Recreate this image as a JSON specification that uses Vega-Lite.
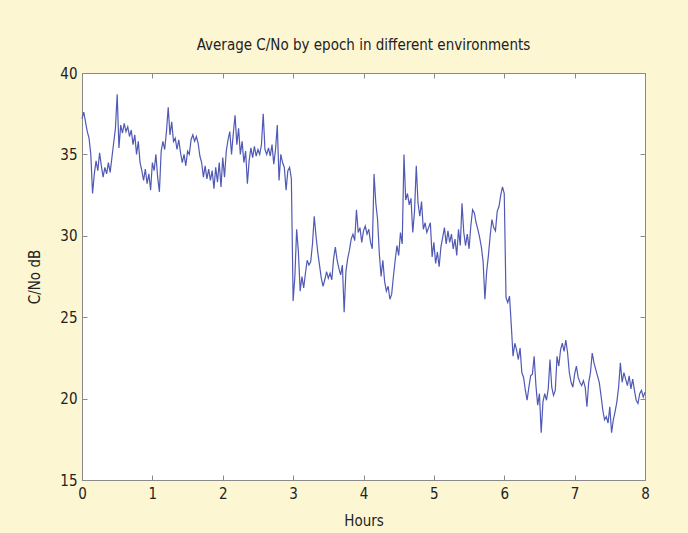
{
  "$schema": "https://vega.github.io/schema/vega-lite/v6.json",
  "width": 563,
  "height": 407,
  "autosize": {"type": "none"},
  "padding": {"left": 82, "top": 73, "right": 43, "bottom": 53},
  "background": "#fdf6d3",
  "title": {
    "text": "Average C/No by epoch in different environments",
    "fontSize": 15,
    "fontWeight": "normal",
    "font": "Liberation Sans Narrow, DejaVu Sans Condensed, sans-serif",
    "color": "#222",
    "offset": 13
  },
  "data": {
    "values": [
      {"h": 0.000, "c": 37.2}, {"h": 0.025, "c": 37.6}, {"h": 0.050, "c": 37.0}, {"h": 0.075, "c": 36.4},
      {"h": 0.100, "c": 36.0}, {"h": 0.125, "c": 35.0}, {"h": 0.150, "c": 32.6}, {"h": 0.175, "c": 33.8},
      {"h": 0.200, "c": 34.6}, {"h": 0.225, "c": 34.0}, {"h": 0.250, "c": 35.1}, {"h": 0.275, "c": 34.3},
      {"h": 0.300, "c": 33.6}, {"h": 0.325, "c": 34.2}, {"h": 0.350, "c": 33.8}, {"h": 0.375, "c": 34.5},
      {"h": 0.400, "c": 33.9}, {"h": 0.425, "c": 34.8}, {"h": 0.450, "c": 35.7}, {"h": 0.475, "c": 36.6},
      {"h": 0.500, "c": 38.7}, {"h": 0.525, "c": 35.4}, {"h": 0.550, "c": 36.8}, {"h": 0.575, "c": 36.3},
      {"h": 0.600, "c": 36.9}, {"h": 0.625, "c": 36.4}, {"h": 0.650, "c": 36.7}, {"h": 0.675, "c": 36.1},
      {"h": 0.700, "c": 36.5}, {"h": 0.725, "c": 35.6}, {"h": 0.750, "c": 36.2}, {"h": 0.775, "c": 35.0},
      {"h": 0.800, "c": 35.8}, {"h": 0.825, "c": 34.5}, {"h": 0.850, "c": 34.0}, {"h": 0.875, "c": 33.4},
      {"h": 0.900, "c": 34.1}, {"h": 0.925, "c": 33.2}, {"h": 0.950, "c": 33.8}, {"h": 0.975, "c": 32.8},
      {"h": 1.000, "c": 34.5}, {"h": 1.025, "c": 34.0}, {"h": 1.050, "c": 35.0}, {"h": 1.075, "c": 33.6},
      {"h": 1.100, "c": 32.7}, {"h": 1.125, "c": 35.2}, {"h": 1.150, "c": 35.8}, {"h": 1.175, "c": 35.3},
      {"h": 1.200, "c": 36.4}, {"h": 1.225, "c": 37.9}, {"h": 1.250, "c": 36.2}, {"h": 1.275, "c": 37.0},
      {"h": 1.300, "c": 35.8}, {"h": 1.325, "c": 36.0}, {"h": 1.350, "c": 35.3}, {"h": 1.375, "c": 35.9},
      {"h": 1.400, "c": 35.1}, {"h": 1.425, "c": 34.5}, {"h": 1.450, "c": 35.0}, {"h": 1.475, "c": 34.3},
      {"h": 1.500, "c": 35.2}, {"h": 1.525, "c": 35.0}, {"h": 1.550, "c": 35.9}, {"h": 1.575, "c": 36.2},
      {"h": 1.600, "c": 35.8}, {"h": 1.625, "c": 36.1}, {"h": 1.650, "c": 35.7}, {"h": 1.675, "c": 34.9},
      {"h": 1.700, "c": 34.5}, {"h": 1.725, "c": 33.6}, {"h": 1.750, "c": 34.3}, {"h": 1.775, "c": 33.5},
      {"h": 1.800, "c": 34.1}, {"h": 1.825, "c": 33.4}, {"h": 1.850, "c": 34.0}, {"h": 1.875, "c": 32.9},
      {"h": 1.900, "c": 34.2}, {"h": 1.925, "c": 33.3}, {"h": 1.950, "c": 34.5}, {"h": 1.975, "c": 33.0},
      {"h": 2.000, "c": 34.8}, {"h": 2.025, "c": 33.6}, {"h": 2.050, "c": 35.2}, {"h": 2.075, "c": 35.9},
      {"h": 2.100, "c": 36.4}, {"h": 2.125, "c": 35.0}, {"h": 2.150, "c": 36.3}, {"h": 2.175, "c": 37.4},
      {"h": 2.200, "c": 35.6}, {"h": 2.225, "c": 36.6}, {"h": 2.250, "c": 35.0}, {"h": 2.275, "c": 35.8},
      {"h": 2.300, "c": 34.5}, {"h": 2.325, "c": 35.2}, {"h": 2.350, "c": 33.2}, {"h": 2.375, "c": 34.6},
      {"h": 2.400, "c": 35.4}, {"h": 2.425, "c": 34.8}, {"h": 2.450, "c": 35.5}, {"h": 2.475, "c": 34.9},
      {"h": 2.500, "c": 35.3}, {"h": 2.525, "c": 35.0}, {"h": 2.550, "c": 35.6}, {"h": 2.575, "c": 37.5},
      {"h": 2.600, "c": 35.3}, {"h": 2.625, "c": 35.0}, {"h": 2.650, "c": 35.4}, {"h": 2.675, "c": 34.9},
      {"h": 2.700, "c": 35.6}, {"h": 2.725, "c": 34.4}, {"h": 2.750, "c": 35.3}, {"h": 2.775, "c": 36.8},
      {"h": 2.800, "c": 33.4}, {"h": 2.825, "c": 35.0}, {"h": 2.850, "c": 34.5}, {"h": 2.875, "c": 34.2},
      {"h": 2.900, "c": 32.8}, {"h": 2.925, "c": 34.0}, {"h": 2.950, "c": 34.2}, {"h": 2.975, "c": 33.5},
      {"h": 3.000, "c": 26.0}, {"h": 3.025, "c": 27.5}, {"h": 3.050, "c": 30.4}, {"h": 3.075, "c": 29.0},
      {"h": 3.100, "c": 26.6}, {"h": 3.125, "c": 27.5}, {"h": 3.150, "c": 26.8}, {"h": 3.175, "c": 27.7},
      {"h": 3.200, "c": 28.5}, {"h": 3.225, "c": 28.2}, {"h": 3.250, "c": 28.4}, {"h": 3.275, "c": 29.5},
      {"h": 3.300, "c": 31.2}, {"h": 3.325, "c": 30.0}, {"h": 3.350, "c": 29.0}, {"h": 3.375, "c": 28.2},
      {"h": 3.400, "c": 27.4}, {"h": 3.425, "c": 26.9}, {"h": 3.450, "c": 27.3}, {"h": 3.475, "c": 27.8},
      {"h": 3.500, "c": 27.4}, {"h": 3.525, "c": 27.7}, {"h": 3.550, "c": 27.3}, {"h": 3.575, "c": 28.6},
      {"h": 3.600, "c": 29.3}, {"h": 3.625, "c": 28.5}, {"h": 3.650, "c": 28.0}, {"h": 3.675, "c": 27.6},
      {"h": 3.700, "c": 28.2}, {"h": 3.725, "c": 25.3}, {"h": 3.750, "c": 27.8}, {"h": 3.775, "c": 28.6},
      {"h": 3.800, "c": 29.1}, {"h": 3.825, "c": 29.8}, {"h": 3.850, "c": 30.1}, {"h": 3.875, "c": 29.7},
      {"h": 3.900, "c": 31.6}, {"h": 3.925, "c": 30.2}, {"h": 3.950, "c": 30.5}, {"h": 3.975, "c": 29.6},
      {"h": 4.000, "c": 30.3}, {"h": 4.025, "c": 30.6}, {"h": 4.050, "c": 30.1}, {"h": 4.075, "c": 30.4},
      {"h": 4.100, "c": 29.6}, {"h": 4.125, "c": 29.2}, {"h": 4.150, "c": 33.8}, {"h": 4.175, "c": 32.0},
      {"h": 4.200, "c": 31.0}, {"h": 4.225, "c": 28.9}, {"h": 4.250, "c": 27.5}, {"h": 4.275, "c": 28.5},
      {"h": 4.300, "c": 27.2}, {"h": 4.325, "c": 26.6}, {"h": 4.350, "c": 26.9}, {"h": 4.375, "c": 26.1},
      {"h": 4.400, "c": 26.4}, {"h": 4.425, "c": 27.5}, {"h": 4.450, "c": 28.5}, {"h": 4.475, "c": 29.4},
      {"h": 4.500, "c": 28.8}, {"h": 4.525, "c": 30.2}, {"h": 4.550, "c": 29.5}, {"h": 4.575, "c": 35.0},
      {"h": 4.600, "c": 32.2}, {"h": 4.625, "c": 32.6}, {"h": 4.650, "c": 31.9}, {"h": 4.675, "c": 32.3},
      {"h": 4.700, "c": 30.2}, {"h": 4.725, "c": 31.5}, {"h": 4.750, "c": 34.3}, {"h": 4.775, "c": 32.0},
      {"h": 4.800, "c": 31.2}, {"h": 4.825, "c": 32.1}, {"h": 4.850, "c": 30.4}, {"h": 4.875, "c": 30.8},
      {"h": 4.900, "c": 30.2}, {"h": 4.925, "c": 30.5}, {"h": 4.950, "c": 30.8}, {"h": 4.975, "c": 28.7},
      {"h": 5.000, "c": 29.6}, {"h": 5.025, "c": 28.3}, {"h": 5.050, "c": 29.0}, {"h": 5.075, "c": 28.1},
      {"h": 5.100, "c": 29.3}, {"h": 5.125, "c": 29.9}, {"h": 5.150, "c": 30.5}, {"h": 5.175, "c": 29.5},
      {"h": 5.200, "c": 30.3}, {"h": 5.225, "c": 29.6}, {"h": 5.250, "c": 30.1}, {"h": 5.275, "c": 29.2},
      {"h": 5.300, "c": 29.8}, {"h": 5.325, "c": 28.8}, {"h": 5.350, "c": 30.4}, {"h": 5.375, "c": 29.4},
      {"h": 5.400, "c": 32.0}, {"h": 5.425, "c": 30.2}, {"h": 5.450, "c": 29.4}, {"h": 5.475, "c": 30.1},
      {"h": 5.500, "c": 29.2}, {"h": 5.525, "c": 30.6}, {"h": 5.550, "c": 31.6}, {"h": 5.575, "c": 31.4},
      {"h": 5.600, "c": 30.8}, {"h": 5.625, "c": 30.4}, {"h": 5.650, "c": 29.9}, {"h": 5.675, "c": 29.3},
      {"h": 5.700, "c": 28.4}, {"h": 5.725, "c": 26.1}, {"h": 5.750, "c": 27.8}, {"h": 5.775, "c": 28.8},
      {"h": 5.800, "c": 30.0}, {"h": 5.825, "c": 31.0}, {"h": 5.850, "c": 30.5}, {"h": 5.875, "c": 30.3},
      {"h": 5.900, "c": 31.5}, {"h": 5.925, "c": 31.8}, {"h": 5.950, "c": 32.5}, {"h": 5.975, "c": 33.0},
      {"h": 6.000, "c": 32.6}, {"h": 6.025, "c": 26.2}, {"h": 6.050, "c": 25.9}, {"h": 6.075, "c": 26.3},
      {"h": 6.100, "c": 24.5}, {"h": 6.125, "c": 22.6}, {"h": 6.150, "c": 23.4}, {"h": 6.175, "c": 23.0},
      {"h": 6.200, "c": 22.4}, {"h": 6.225, "c": 23.1}, {"h": 6.250, "c": 21.6}, {"h": 6.275, "c": 21.3},
      {"h": 6.300, "c": 20.5}, {"h": 6.325, "c": 19.9}, {"h": 6.350, "c": 20.7}, {"h": 6.375, "c": 21.4},
      {"h": 6.400, "c": 21.5}, {"h": 6.425, "c": 22.6}, {"h": 6.450, "c": 20.8}, {"h": 6.475, "c": 19.6},
      {"h": 6.500, "c": 20.3}, {"h": 6.525, "c": 17.9}, {"h": 6.550, "c": 19.8}, {"h": 6.575, "c": 20.3},
      {"h": 6.600, "c": 19.9}, {"h": 6.625, "c": 20.6}, {"h": 6.650, "c": 22.4}, {"h": 6.675, "c": 20.7},
      {"h": 6.700, "c": 20.2}, {"h": 6.725, "c": 20.5}, {"h": 6.750, "c": 22.6}, {"h": 6.775, "c": 22.0},
      {"h": 6.800, "c": 23.0}, {"h": 6.825, "c": 23.4}, {"h": 6.850, "c": 22.9}, {"h": 6.875, "c": 23.6},
      {"h": 6.900, "c": 22.8}, {"h": 6.925, "c": 21.6}, {"h": 6.950, "c": 21.0}, {"h": 6.975, "c": 20.7},
      {"h": 7.000, "c": 21.5}, {"h": 7.025, "c": 22.0}, {"h": 7.050, "c": 21.3}, {"h": 7.075, "c": 21.0},
      {"h": 7.100, "c": 20.8}, {"h": 7.125, "c": 21.1}, {"h": 7.150, "c": 20.7}, {"h": 7.175, "c": 19.5},
      {"h": 7.200, "c": 21.0}, {"h": 7.225, "c": 21.6}, {"h": 7.250, "c": 22.8}, {"h": 7.275, "c": 22.2},
      {"h": 7.300, "c": 21.8}, {"h": 7.325, "c": 21.4}, {"h": 7.350, "c": 21.0}, {"h": 7.375, "c": 20.2},
      {"h": 7.400, "c": 19.3}, {"h": 7.425, "c": 18.7}, {"h": 7.450, "c": 18.9}, {"h": 7.475, "c": 18.5},
      {"h": 7.500, "c": 19.5}, {"h": 7.525, "c": 17.9}, {"h": 7.550, "c": 18.7}, {"h": 7.575, "c": 19.2},
      {"h": 7.600, "c": 19.8}, {"h": 7.625, "c": 20.7}, {"h": 7.650, "c": 22.2}, {"h": 7.675, "c": 21.0},
      {"h": 7.700, "c": 21.6}, {"h": 7.725, "c": 21.2}, {"h": 7.750, "c": 20.8}, {"h": 7.775, "c": 21.4},
      {"h": 7.800, "c": 20.6}, {"h": 7.825, "c": 21.2}, {"h": 7.850, "c": 20.5}, {"h": 7.875, "c": 19.9},
      {"h": 7.900, "c": 19.7}, {"h": 7.925, "c": 20.3}, {"h": 7.950, "c": 20.5}, {"h": 7.975, "c": 20.1},
      {"h": 8.000, "c": 20.4}
    ]
  },
  "resolve": {"axis": {"x": "independent", "y": "independent"}},
  "layer": [
    {
      "mark": {"type": "line", "color": "#5059b4", "strokeWidth": 1.2, "interpolate": "linear"},
      "encoding": {
        "x": {
          "field": "h",
          "type": "quantitative",
          "title": "Hours",
          "scale": {"domain": [0, 8], "nice": false},
          "axis": {"values": [0, 1, 2, 3, 4, 5, 6, 7, 8], "tickSize": -5, "labelFlush": false, "labelPadding": 11, "titlePadding": 12}
        },
        "y": {
          "field": "c",
          "type": "quantitative",
          "title": "C/No dB",
          "scale": {"domain": [15, 40], "nice": false, "zero": false},
          "axis": {"values": [15, 20, 25, 30, 35, 40], "tickSize": -5, "labelFlush": false, "labelPadding": 10, "titlePadding": 17}
        }
      }
    },
    {
      "mark": {"type": "line", "opacity": 0},
      "encoding": {
        "x": {
          "field": "h",
          "type": "quantitative",
          "scale": {"domain": [0, 8], "nice": false},
          "axis": {"orient": "top", "values": [0, 1, 2, 3, 4, 5, 6, 7, 8], "tickSize": -5, "labels": false, "title": null}
        },
        "y": {
          "field": "c",
          "type": "quantitative",
          "scale": {"domain": [15, 40], "nice": false, "zero": false},
          "axis": {"orient": "right", "values": [15, 20, 25, 30, 35, 40], "tickSize": -5, "labels": false, "title": null}
        }
      }
    }
  ],
  "config": {
    "font": "Liberation Sans Narrow, DejaVu Sans Condensed, sans-serif",
    "view": {"fill": "white", "stroke": "#8a8a8a", "strokeWidth": 1},
    "axis": {
      "grid": false,
      "domainColor": "#8a8a8a",
      "tickColor": "#8a8a8a",
      "labelFont": "Liberation Sans Narrow, DejaVu Sans Condensed, sans-serif",
      "titleFont": "Liberation Sans Narrow, DejaVu Sans Condensed, sans-serif",
      "labelFontSize": 15,
      "titleFontSize": 15,
      "titleFontWeight": "normal",
      "labelColor": "#222",
      "titleColor": "#222"
    }
  }
}
